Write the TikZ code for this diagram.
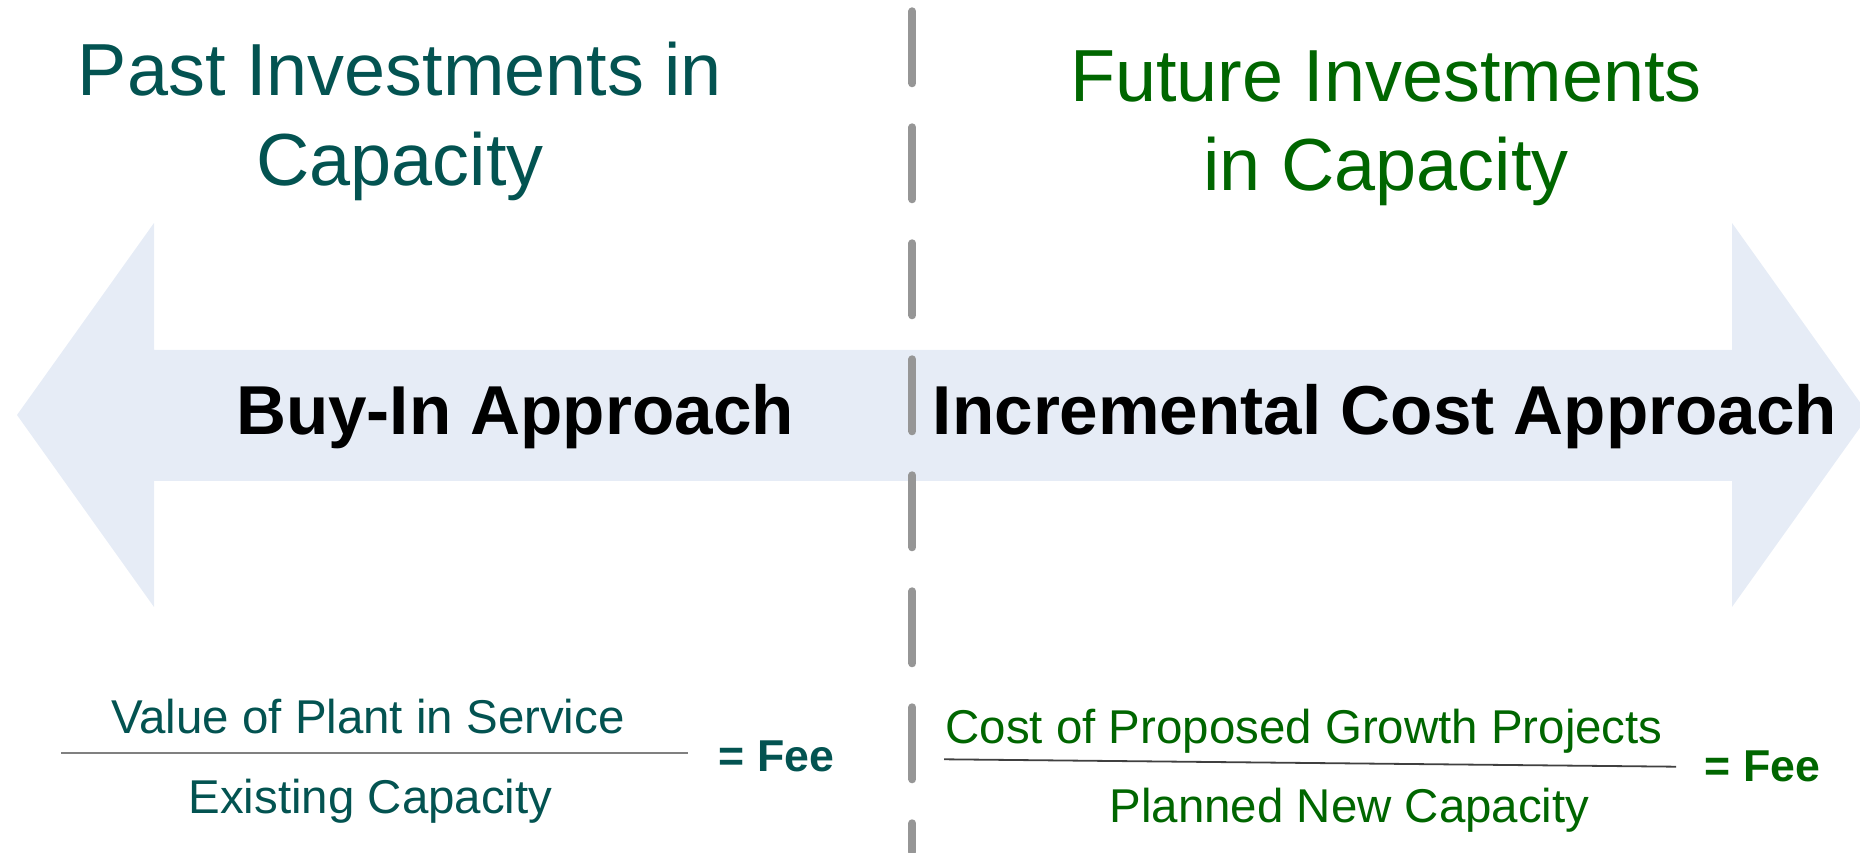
\documentclass[tikz,border=0pt]{standalone}
\usepackage{fontspec}
\setmainfont{Liberation Sans}
\definecolor{pastteal}{HTML}{035351}
\definecolor{futuregreen}{HTML}{006600}
\definecolor{bandblue}{HTML}{E6ECF6}
\definecolor{dashgrey}{HTML}{969696}
\begin{document}
\begin{tikzpicture}[
  title/.style={inner sep=0pt, anchor=base, align=center, font=\fontsize{21}{25.6}\selectfont},
  approach/.style={inner sep=0pt, anchor=base, font=\fontsize{19.7}{23}\selectfont\bfseries},
  frac/.style={inner sep=0pt, anchor=base, font=\fontsize{13.5}{16}\selectfont},
  fee/.style={inner sep=0pt, anchor=base west, font=\fontsize{12.7}{15}\selectfont\bfseries}
]
  \useasboundingbox (0,0) rectangle (18.6,8.52);
  % Doppelpfeil
  \fill[bandblue] (0.17,4.37) -- (1.54,6.29) -- (1.54,5.02) -- (17.32,5.02)
    -- (17.32,6.29) -- (18.69,4.37) -- (17.32,2.45) -- (17.32,3.71)
    -- (1.54,3.71) -- (1.54,2.45) -- cycle;
  % Trennlinie
  \coordinate (top) at (9.123,8.407);
  \coordinate (bottom) at (9.123,0);
  \draw[dashgrey, line width=0.08cm, line cap=round, dash pattern=on 0.72cm off 0.44cm] (top) -- (bottom);
  % Ueberschriften (base = letzte Zeile)
  \node[title, text=pastteal] (past) at (4.0,6.663) {Past Investments in\\Capacity};
  \node[title, text=futuregreen] (future) at (13.86,6.61) {Future Investments\\in Capacity};
  \node[approach] (buyin) at (5.15,4.17) {Buy-In Approach};
  \node[approach] (incremental) at (13.85,4.17) {Incremental Cost Approach};
  % Bruch links
  \node[frac, text=pastteal] (plant) at (3.68,1.18) {Value of Plant in Service};
  \node[frac, text=pastteal] (existing) at (3.705,0.38) {Existing Capacity};
  \coordinate (barLa) at (0.61,0.993);
  \coordinate (barLb) at (6.88,0.993);
  \draw[gray, line width=0.02cm] (barLa) -- (barLb);
  \node[fee, text=pastteal] (feeL) at (7.18,0.80) {= Fee};
  % Bruch rechts
  \node[frac, text=futuregreen] (growth) at (13.04,1.08) {Cost of Proposed Growth Projects};
  \node[frac, text=futuregreen] (planned) at (13.495,0.293) {Planned New Capacity};
  \coordinate (barRa) at (9.44,0.927);
  \coordinate (barRb) at (16.76,0.853);
  \draw[black!75, line width=0.018cm] (barRa) -- (barRb);
  \node[fee, text=futuregreen] (feeR) at (17.04,0.703) {= Fee};
\end{tikzpicture}
\end{document}
